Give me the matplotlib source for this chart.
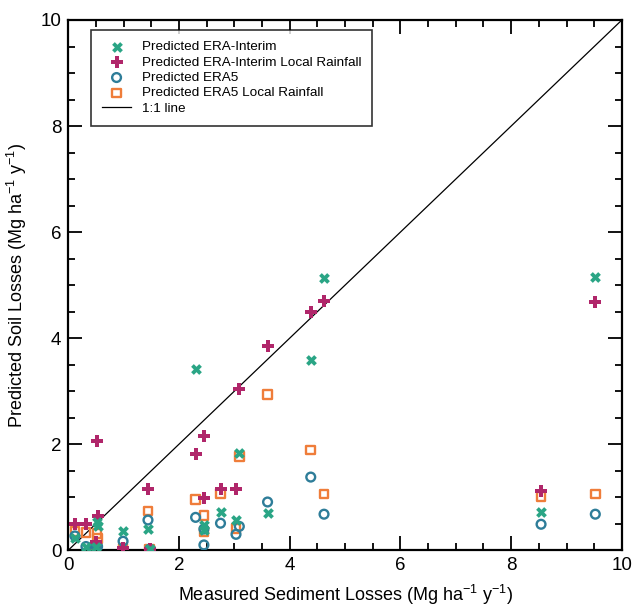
import matplotlib
matplotlib.use("Agg")
import matplotlib.pyplot as plt
from matplotlib.ticker import MultipleLocator

plt.rcParams['font.family'] = ['Liberation Sans', 'DejaVu Sans']
plt.rcParams['mathtext.fontset'] = 'custom'
plt.rcParams['mathtext.rm'] = 'Liberation Sans'
plt.rcParams['mathtext.it'] = 'Liberation Sans:italic'
plt.rcParams['mathtext.bf'] = 'Liberation Sans:bold'

# Measured sediment losses (x) for each site
measured = [0.12, 0.32, 0.52, 0.53, 0.50, 0.99, 1.44, 1.47, 2.30, 2.45, 2.45,
            2.75, 3.03, 3.09, 3.60, 4.38, 4.62, 8.54, 9.52]
# Predicted soil losses for each product
era_interim = [0.23, 0.06, 0.54, 0.45, 0.06, 0.36, 0.40, 0.03, 3.42, 0.48, 0.38,
               0.72, 0.57, 1.83, 0.71, 3.59, 5.14, 0.73, 5.15]
era_interim_local = [0.49, 0.50, 2.06, 0.65, 0.16, 0.05, 1.15, 0.03, 1.81, 2.16, 0.98,
                     1.15, 1.15, 3.05, 3.85, 4.49, 4.70, 1.12, 4.69]
era5 = [0.27, 0.07, 0.08, 0.07, 0.08, 0.17, 0.57, 0.02, 0.62, 0.10, 0.40,
        0.51, 0.30, 0.45, 0.91, 1.38, 0.68, 0.49, 0.68]
era5_local = [0.36, 0.33, 0.32, 0.22, 0.10, 0.04, 0.74, 0.02, 0.96, 0.66, 0.35,
              1.07, 0.41, 1.77, 2.94, 1.89, 1.06, 1.02, 1.06]
line_1to1 = [0, 10]

c_x = '#2aa585'
c_p = '#b0266a'
c_o = '#2e7d99'
c_s = '#ef7d3a'

fig = plt.figure(figsize=(6.32, 6.06), dpi=100)
ax = fig.add_axes([0.108, 0.092, 0.876, 0.875])

h1 = ax.scatter(measured, era_interim, marker='X', s=60, color=c_x, linewidths=0,
                zorder=6, label='Predicted ERA-Interim')
h2 = ax.scatter(measured, era_interim_local, marker='P', s=65, color=c_p, linewidths=0,
                zorder=5, label='Predicted ERA-Interim Local Rainfall')
h3 = ax.scatter(measured, era5, marker='o', s=40, facecolors='none', edgecolors=c_o,
                linewidths=1.7, zorder=4, label='Predicted ERA5')
h4 = ax.scatter(measured, era5_local, marker='s', s=40, facecolors='none', edgecolors=c_s,
                linewidths=1.7, zorder=3, label='Predicted ERA5 Local Rainfall')
h5, = ax.plot(line_1to1, line_1to1, color='black', lw=0.9, zorder=2, label='1:1 line')

ax.set_xlim(0, 10)
ax.set_ylim(0, 10)
ax.xaxis.set_major_locator(MultipleLocator(2))
ax.xaxis.set_minor_locator(MultipleLocator(0.5))
ax.yaxis.set_major_locator(MultipleLocator(2))
ax.yaxis.set_minor_locator(MultipleLocator(0.5))
ax.tick_params(which='both', direction='in', top=True, right=True, labelsize=13.5, width=1.3)
ax.tick_params(which='major', length=10, pad=5)
ax.tick_params(which='minor', length=5)
for sp in ax.spines.values():
    sp.set_linewidth(1.6)

ax.set_xlabel('Measured Sediment Losses (Mg ha$^{-1}$ y$^{-1}$)', fontsize=13, labelpad=6)
ax.set_ylabel('Predicted Soil Losses (Mg ha$^{-1}$ y$^{-1}$)', fontsize=13, labelpad=8)

leg = ax.legend(handles=[h1, h2, h3, h4, h5], loc='upper left',
                bbox_to_anchor=(0.041, 0.981), borderaxespad=0, fontsize=9.7,
                frameon=True, fancybox=False, edgecolor='black', borderpad=0.8,
                labelspacing=0.22, handletextpad=0.8, handlelength=2.2)
leg.get_frame().set_linewidth(1.2)

fig.savefig('out.png', dpi=100)
